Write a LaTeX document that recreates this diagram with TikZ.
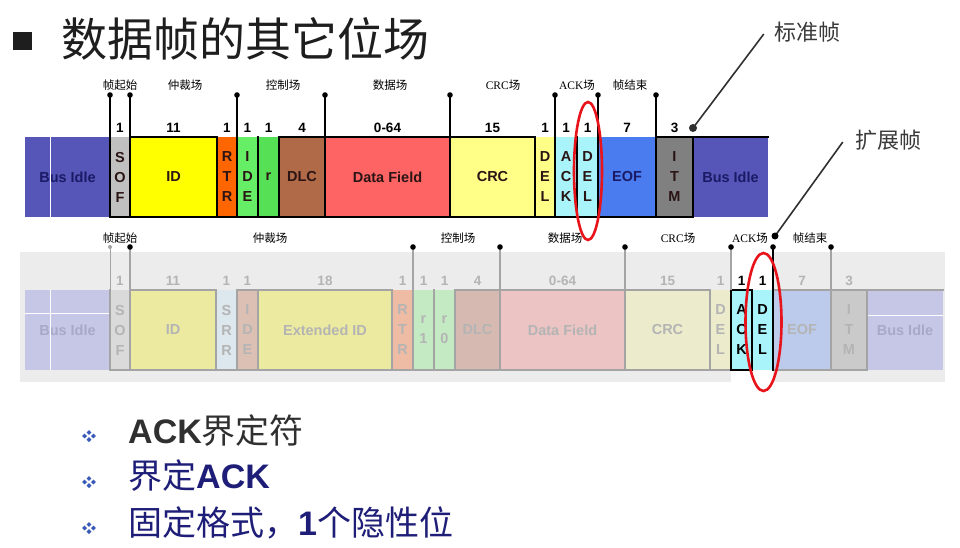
\documentclass[tikz,border=0pt]{standalone}
\usepackage{fontspec}
\setmainfont{Liberation Sans}
\newfontfamily\cjk{Noto Sans CJK SC}
\newfontfamily\serifl{Liberation Serif}
\usetikzlibrary{shapes.geometric}
\definecolor{busblue}{HTML}{5656B8}
\definecolor{busnavy}{HTML}{1A1A66}
\definecolor{sofgray}{HTML}{C0C0C0}
\definecolor{idyel}{HTML}{FFFF00}
\definecolor{rtrorg}{HTML}{FF6600}
\definecolor{idegrn}{HTML}{66EE66}
\definecolor{rgrn}{HTML}{55E055}
\definecolor{dlcbrn}{HTML}{B06A48}
\definecolor{datared}{HTML}{FF6464}
\definecolor{crcyel}{HTML}{FFFF88}
\definecolor{ackcyan}{HTML}{A8F4FA}
\definecolor{eofblue}{HTML}{4A7CF0}
\definecolor{itmgray}{HTML}{808080}
\definecolor{fldtext}{HTML}{2A1414}
\definecolor{fadetext}{HTML}{B4B4B4}
\definecolor{fadelavtext}{HTML}{A8A8C8}
\definecolor{flav}{HTML}{C6C6E6}
\definecolor{fsof}{HTML}{DADADA}
\definecolor{fid}{HTML}{ECEAA0}
\definecolor{fsrr}{HTML}{DCE8EE}
\definecolor{fide}{HTML}{DCC0B4}
\definecolor{frtr}{HTML}{EEBCA4}
\definecolor{frr}{HTML}{C4EAC4}
\definecolor{fdlc}{HTML}{D6BAB2}
\definecolor{fdata}{HTML}{ECC4C4}
\definecolor{fcrc}{HTML}{ECECCC}
\definecolor{feof}{HTML}{BCCAEC}
\definecolor{fitm}{HTML}{CACACA}
\definecolor{bggray}{HTML}{ECECEC}
\definecolor{gline}{HTML}{A4A4A4}
\definecolor{ringred}{HTML}{E8141C}
\definecolor{calldark}{HTML}{303030}
\definecolor{calltext}{HTML}{3A3A3A}
\definecolor{titledark}{HTML}{1E1E1E}
\definecolor{line1col}{HTML}{303030}
\definecolor{navytext}{HTML}{1E1E78}
\definecolor{bulblue}{HTML}{3A5AB8}
\newcommand\cfield[8]{%
  \pgfmathsetmacro\cfw{#3-#2}%
  \pgfmathsetmacro\cfh{#5-#4}%
  \node[fldbox, fill=#6, minimum width=\cfw pt, minimum height=\cfh pt, #8] (#1) at ({(#2+#3)/2},{(#4+#5)/2}) {#7};}
\newcommand\quaddiam[2]{%
  \foreach \dx/\dy in {0/-3.6,0/3.6,-4.4/0,4.4/0}{%
    \fill[bulblue] ({#1+\dx},{#2+\dy}) +(0,-2.4) -- +(2.4,0) -- +(0,2.4) -- +(-2.4,0) -- cycle;}}
\begin{document}
\begin{tikzpicture}[x=1pt,y=-1pt,
  fldbox/.style={inner sep=0pt, outer sep=0pt, draw=none, align=center, font=\fontsize{14.5}{20}\selectfont\bfseries, text=fldtext},
  fade/.style={text=fadetext},
  numtxt/.style={inner sep=0pt, font=\fontsize{13.5}{16}\selectfont\bfseries, text=black},
  fadenum/.style={numtxt, text=fadetext},
  toplbl/.style={inner sep=0pt, font=\cjk\fontsize{11.5}{14}\selectfont},
  wave/.style={line width=2.8pt, black, line cap=rect},
  gwave/.style={line width=2.8pt, gline, line cap=rect},
  pinline/.style={line width=1.5pt, black},
  gpinline/.style={line width=1.5pt, gline},
  ring/.style={ellipse, draw=ringred, line width=2.6pt, inner sep=0pt},
  callline/.style={line width=1.6pt, calldark},
  calltxt/.style={inner sep=0pt, font=\cjk\fontsize{22}{26}\selectfont, text=calltext},
  bullettxt/.style={inner sep=0pt, anchor=base west, font=\fontsize{34}{40}\selectfont},
]
\useasboundingbox (0,0) rectangle (960,548);
\fill[white] (0,0) rectangle (960,548);

% ---------- title ----------
\fill[titledark] (13,32) rectangle (32,50);
\node[inner sep=0pt, anchor=base west, font=\cjk\fontsize{46}{52}\selectfont, text=titledark] (title) at (61,57) {数据帧的其它位场};

% ---------- standard frame (top) ----------
\cfield{tbi1}{25}{110}{137}{217}{busblue}{Bus Idle}{text=busnavy}
\cfield{tsof}{110}{130}{137}{217}{sofgray}{S\\O\\F}{}
\cfield{tid}{130}{217}{137}{217}{idyel}{ID}{}
\cfield{trtr}{217}{237}{137}{217}{rtrorg}{R\\T\\R}{}
\cfield{tide}{237}{258}{137}{217}{idegrn}{I\\D\\E}{}
\cfield{tr}{258}{279}{137}{217}{rgrn}{r}{}
\cfield{tdlc}{279}{325}{137}{217}{dlcbrn}{DLC}{}
\cfield{tdata}{325}{450}{137}{217}{datared}{Data Field}{}
\cfield{tcrc}{450}{535}{137}{217}{crcyel}{CRC}{}
\cfield{tdel1}{535}{555}{137}{217}{crcyel}{D\\E\\L}{}
\cfield{tack}{555}{577}{137}{217}{ackcyan}{A\\C\\K}{}
\cfield{tdel2}{577}{598}{137}{217}{ackcyan}{D\\E\\L}{}
\cfield{teof}{598}{656}{137}{217}{eofblue}{EOF}{text=busnavy}
\cfield{titm}{656}{693}{137}{217}{itmgray}{I\\T\\M}{}
\cfield{tbi2}{693}{768}{137}{217}{busblue}{Bus Idle}{text=busnavy}
\draw[white, line width=1pt] (50,137) -- (50,217);

\foreach \f/\v in {tsof/1,tid/11,trtr/1,tide/1,tr/1,tdlc/4,tdata/0-64,tcrc/15,tdel1/1,tack/1,tdel2/1,teof/7,titm/3}
  \node[numtxt, above=4pt] (n-\f) at (\f.north) {\v};

% waveform lines
\draw[wave] (tsof.south west) -- (titm.south east);
\foreach \n in {tsof,tid,trtr,tide,tr,tdlc,tdata,tcrc,tdel1,tack,tdel2,teof,titm}
  \draw[wave] (\n.north west) -- (\n.south west);
\draw[wave] (titm.north east) -- (titm.south east);
\foreach \n in {tid,tdlc,tdata,tcrc,titm,tbi2}
  \draw[wave] (\n.north west) -- (\n.north east);

% pins
\foreach \i/\x/\n in {1/110/tsof,2/130/tid,3/237/tide,4/325/tdata,5/450/tcrc,6/555/tack,7/598/teof,8/656/titm}{
  \coordinate (tp\i) at (\x,95);
  \draw[pinline] (tp\i) -- (\n.north west);
  \fill (tp\i) circle (2.8pt);
}

% field labels
\node[toplbl] (tl1) at (120,85) {帧起始};
\node[toplbl] (tl2) at (185,85) {仲裁场};
\node[toplbl] (tl3) at (283,85) {控制场};
\node[toplbl] (tl4) at (390,85) {数据场};
\node[toplbl] (tl5) at (503,85) {{\serifl CRC}场};
\node[toplbl] (tl6) at (577,85) {{\serifl ACK}场};
\node[toplbl] (tl7) at (630,85) {帧结束};

% ---------- extended frame (bottom) ----------
\fill[bggray] (20,252) rectangle (945,382);
\fill[white] (731,252) rectangle (773,382);
\cfield{bbi1}{25}{110}{290}{370}{flav}{Bus Idle}{text=fadelavtext}
\cfield{bsof}{110}{130}{290}{370}{fsof}{S\\O\\F}{fade}
\cfield{bid}{130}{216}{290}{370}{fid}{ID}{fade}
\cfield{bsrr}{216}{237}{290}{370}{fsrr}{S\\R\\R}{fade}
\cfield{bide}{237}{258}{290}{370}{fide}{I\\D\\E}{fade}
\cfield{bext}{258}{392}{290}{370}{fid}{Extended ID}{fade}
\cfield{brtr}{392}{413}{290}{370}{frtr}{R\\T\\R}{fade}
\cfield{br1}{413}{434}{290}{370}{frr}{r\\1}{fade}
\cfield{br0}{434}{455}{290}{370}{frr}{r\\0}{fade}
\cfield{bdlc}{455}{500}{290}{370}{fdlc}{DLC}{fade}
\cfield{bdata}{500}{625}{290}{370}{fdata}{Data Field}{fade}
\cfield{bcrc}{625}{710}{290}{370}{fcrc}{CRC}{fade}
\cfield{bdel1}{710}{731}{290}{370}{fcrc}{D\\E\\L}{fade}
\cfield{back}{731}{752}{290}{370}{ackcyan}{A\\C\\K}{text=black}
\cfield{bdel2}{752}{773}{290}{370}{ackcyan}{D\\E\\L}{text=black}
\cfield{beof}{773}{831}{290}{370}{feof}{EOF}{fade}
\cfield{bitm}{831}{867}{290}{370}{fitm}{I\\T\\M}{fade}
\cfield{bbi2}{867}{943}{290}{370}{flav}{Bus Idle}{text=fadelavtext}
\draw[white, line width=1pt] (50,290) -- (50,370) (25,313) -- (110,313) (867,315) -- (943,315);

\foreach \f/\v in {bsof/1,bid/11,bsrr/1,bide/1,bext/18,brtr/1,br1/1,br0/1,bdlc/4,bdata/0-64,bcrc/15,bdel1/1,beof/7,bitm/3}
  \node[fadenum, above=4pt] (n-\f) at (\f.north) {\v};
\foreach \f in {back,bdel2}
  \node[numtxt, above=4pt] (n-\f) at (\f.north) {1};

% waveform lines (faded)
\draw[gwave] (bsof.south west) -- (bdel1.south east);
\draw[gwave] (beof.south west) -- (bitm.south east);
\foreach \n in {bsof,bid,bsrr,bide,bext,brtr,br1,br0,bdlc,bdata,bcrc,bdel1,bitm}
  \draw[gwave] (\n.north west) -- (\n.south west);
\draw[gwave] (bitm.north east) -- (bitm.south east);
\foreach \n in {bid,bide,bext,bdlc,bdata,bcrc,beof,bitm,bbi2}
  \draw[gwave] (\n.north west) -- (\n.north east);
\draw[wave] (back.north east) -- (back.north west) -- (back.south west) -- (back.south east) -- (back.north east);
\draw[wave] (bdel2.north east) -- (bdel2.south east);

% pins (bottom)
\coordinate (bp1) at (110,247);
\draw[gpinline, line width=1pt] (bp1) -- (bsof.north west);
\fill[gline] (bp1) circle (2pt);
\foreach \i/\x/\n in {2/130/bid,3/413/br1,4/500/bdata,5/625/bcrc,6/731/back,8/831/bitm}{
  \coordinate (bp\i) at (\x,247);
  \draw[gpinline] (bp\i) -- (\n.north west);
  \fill (bp\i) circle (2.8pt);
}
\coordinate (bp7) at (773,247);
\draw[pinline] (bp7) -- (beof.north west);
\fill (bp7) circle (2.8pt);

\node[toplbl] (bl1) at (120,238) {帧起始};
\node[toplbl] (bl2) at (270,238) {仲裁场};
\node[toplbl] (bl3) at (458,238) {控制场};
\node[toplbl] (bl4) at (565,238) {数据场};
\node[toplbl] (bl5) at (678,238) {{\serifl CRC}场};
\node[toplbl] (bl6) at (750,238) {{\serifl ACK}场};
\node[toplbl] (bl7) at (810,238) {帧结束};

% ---------- red rings ----------
\node[ring, minimum width=28pt, minimum height=138pt] (ring1) at (588,171) {};
\node[ring, minimum width=36pt, minimum height=138pt] (ring2) at (763.5,322) {};

% ---------- callouts ----------
\node[calltxt] (stdtxt) at (807,32) {标准帧};
\coordinate (stdtip) at (693,128);
\draw[callline] ([xshift=-10pt,yshift=-2pt]stdtxt.west) -- (stdtip);
\fill[calldark] (stdtip) circle (4pt);
\node[calltxt] (exttxt) at (888,140) {扩展帧};
\coordinate (exttip) at (775,236);
\draw[callline] ([xshift=-12pt,yshift=-2pt]exttxt.west) -- (exttip);
\fill[black] (exttip) circle (3.5pt);

% ---------- bullets ----------
\quaddiam{89}{436}
\quaddiam{89}{482}
\quaddiam{89}{528}
\node[bullettxt, text=line1col] (b1) at (128,443) {\bfseries ACK{\cjk\mdseries 界定符}};
\node[bullettxt, text=navytext] (b2) at (128,488) {{\cjk 界定}\bfseries ACK};
\node[bullettxt, text=navytext] (b3) at (128,535) {{\cjk 固定格式，}{\bfseries 1}{\cjk 个隐性位}};
\end{tikzpicture}
\end{document}
